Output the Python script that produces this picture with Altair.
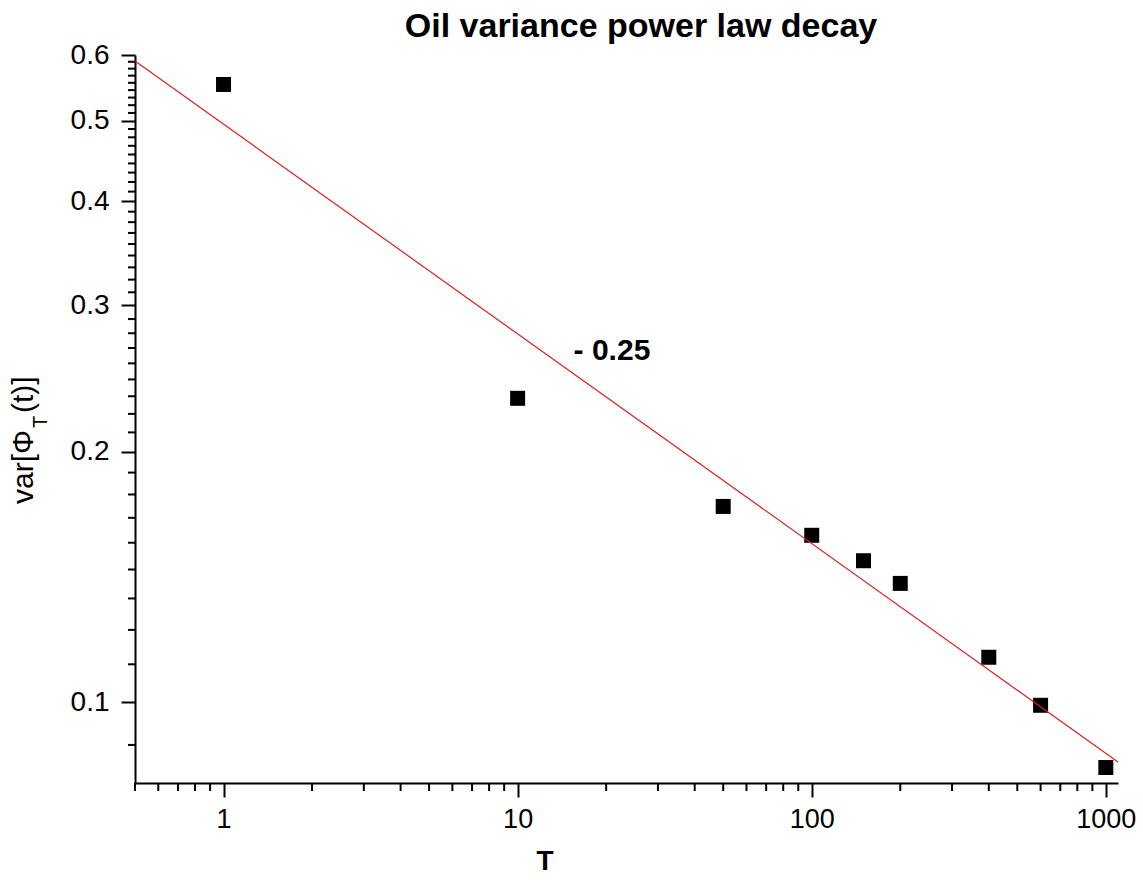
import altair as alt
import pandas as pd

# data
T_values = [1, 10, 50, 100, 150, 200, 400, 600, 1000]
var_values = [0.553, 0.232, 0.172, 0.1588, 0.148, 0.139, 0.1133, 0.0992, 0.0835]

fit_T = [0.5, 1100]
fit_var = [0.59, 0.0848]

x_major = [1, 10, 100, 1000]
x_minor = [0.5, 0.6, 0.7, 0.8, 0.9,
           2, 3, 4, 5, 6, 7, 8, 9,
           20, 30, 40, 50, 60, 70, 80, 90,
           200, 300, 400, 500, 600, 700, 800, 900]
y_major = [0.1, 0.2, 0.3, 0.4, 0.5, 0.6]
y_minor = [round(b + k * 0.1 / 9, 5) for b in [0.0, 0.1, 0.2, 0.3, 0.4, 0.5] for k in range(1, 9)]
y_minor = [v for v in y_minor if 0.08 <= v <= 0.6]

title_text = "Oil variance power law decay"
slope_text = "- 0.25"
x_title = "T"

W, H = 983, 728
FONT = "Liberation Sans"

xscale = alt.Scale(type="log", domain=[0.5, 1100], nice=False)
yscale = alt.Scale(type="log", domain=[0.08, 0.6], nice=False)

pts = pd.DataFrame({"T": T_values, "var": var_values})
fit = pd.DataFrame({"T": fit_T, "var": fit_var})

xaxis = alt.Axis(values=x_major, format="d", title=None, grid=False,
                 tickSize=14, tickWidth=2, tickColor="black",
                 domainWidth=2, domainColor="black",
                 labelFont=FONT, labelFontSize=27, labelColor="black",
                 labelPadding=9)
yaxis = alt.Axis(values=y_major, format=".1f", title=None, grid=False,
                 tickSize=14, tickWidth=2, tickColor="black",
                 domainWidth=2, domainColor="black",
                 labelFont=FONT, labelFontSize=28, labelColor="black",
                 labelPadding=12)

X = lambda: alt.X("T:Q", scale=xscale, axis=xaxis)
Y = lambda: alt.Y("var:Q", scale=yscale, axis=yaxis)

points = alt.Chart(pts).mark_square(size=225, color="black", opacity=1).encode(x=X(), y=Y())

line = alt.Chart(fit).mark_line(color="#dd2020", strokeWidth=1.2).encode(x=X(), y=Y())

xminor = alt.Chart(pd.DataFrame({"T": x_minor})).mark_rule(color="black", strokeWidth=2).encode(
    x=X(), y=alt.value(H), y2=alt.value(H + 8),
)
yminor = alt.Chart(pd.DataFrame({"var": y_minor})).mark_rule(color="black", strokeWidth=2).encode(
    y=Y(), x=alt.value(-7), x2=alt.value(0),
)

slope = alt.Chart(pd.DataFrame({"T": [15.5], "var": [0.258], "t": [slope_text]})).mark_text(
    font=FONT, fontSize=30, fontWeight="bold", align="left", baseline="alphabetic", color="black"
).encode(x=X(), y=Y(), text="t:N")

title = alt.Chart(pd.DataFrame({"t": [title_text]})).mark_text(
    font=FONT, fontSize=34, fontWeight="bold", align="center", baseline="alphabetic", color="black"
).encode(x=alt.value(506), y=alt.value(-18), text="t:N")

xt = alt.Chart(pd.DataFrame({"t": [x_title]})).mark_text(
    font=FONT, fontSize=28, fontWeight="bold", align="center", baseline="alphabetic", color="black"
).encode(x=alt.value(410), y=alt.value(815), text="t:N")

ylab1 = alt.Chart(pd.DataFrame({"t": ["var[\u03a6"]})).mark_text(
    font=FONT, fontSize=30, angle=270, align="right", baseline="alphabetic", color="black"
).encode(x=alt.value(-102), y=alt.value(375), text="t:N")
ylab2 = alt.Chart(pd.DataFrame({"t": ["T"]})).mark_text(
    font=FONT, fontSize=20, angle=270, align="left", baseline="alphabetic", color="black"
).encode(x=alt.value(-88), y=alt.value(373), text="t:N")
ylab3 = alt.Chart(pd.DataFrame({"t": ["(t)]"]})).mark_text(
    font=FONT, fontSize=30, angle=270, align="left", baseline="alphabetic", color="black"
).encode(x=alt.value(-102), y=alt.value(358), text="t:N")

chart = alt.layer(points, line, xminor, yminor, slope, title, xt, ylab1, ylab2, ylab3).properties(
    width=W, height=H,
    padding={"left": 135, "top": 55, "right": 25, "bottom": 106},
    autosize=alt.AutoSizeParams(type="none"),
    background="white",
).configure_view(stroke=None)

chart.save("out.html", embed_options={"renderer": "svg", "actions": False})
